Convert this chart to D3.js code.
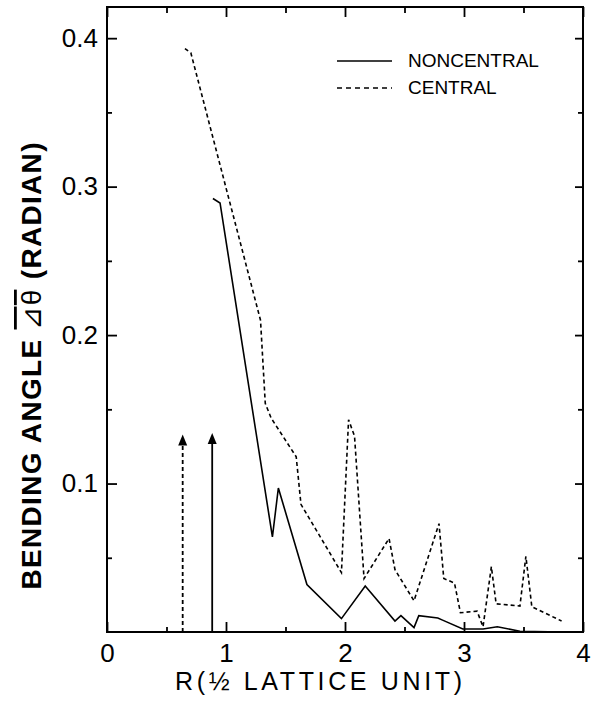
<!DOCTYPE html>
<meta charset="utf-8">
<style>
  body { margin: 0; background: #fff; }
  text { font-family: "Liberation Sans", Arial, sans-serif; fill: #000; }
</style>
<body>
<div id="chart"></div>
<script src="https://d3js.org/d3.v7.min.js"></script>
<script>
  // noncentral (solid)
  const ncR = [0.89, 0.95, 1.39, 1.44, 1.68, 1.97, 2.17, 2.42, 2.47, 2.58, 2.62, 2.78, 2.82, 2.99, 3.16, 3.28, 3.47, 3.83];
  const ncVal = [0.292, 0.289, 0.064, 0.097, 0.032, 0.009, 0.031, 0.0074, 0.011, 0.003, 0.011, 0.0094, 0.008, 0.002, 0.002, 0.0035, 0.0005, 0.0];
  // central (dashed)
  const cR = [0.655, 0.705, 1.29, 1.33, 1.38, 1.59, 1.63, 1.97, 2.03, 2.08, 2.16, 2.37, 2.42, 2.58, 2.79, 2.83, 2.92, 2.97, 3.11, 3.16, 3.23, 3.27, 3.47, 3.52, 3.57, 3.82];
  const cVal = [0.393, 0.390, 0.210, 0.154, 0.144, 0.118, 0.086, 0.040, 0.143, 0.132, 0.036, 0.063, 0.042, 0.021, 0.073, 0.036, 0.033, 0.013, 0.014, 0.0035, 0.044, 0.019, 0.0175, 0.051, 0.017, 0.0074];
  // vertical arrows: x, top value, dashed?
  const arrowR = [0.636, 0.884];
  const arrowTop = [0.133, 0.134];
  const arrowDashed = [true, false];

  const xMajor = [0, 1, 2, 3, 4];
  const xMinor = [0.5, 1.5, 2.5, 3.5];
  const yMajor = [0.1, 0.2, 0.3, 0.4];
  const yMinor = [0.05, 0.15, 0.25, 0.35];

  const W = 598, H = 710;
  const x0 = 107, x1 = 583, y0 = 632, y1 = 7;

  const svg = d3.select('#chart').append('svg')
      .attr('width', W).attr('height', H);

  const x = d3.scaleLinear().domain([0, 4]).range([x0, x1]);
  const y = d3.scaleLinear().domain([0, 0.421]).range([y0, y1]);

  // frame
  svg.append('rect')
      .attr('x', x0).attr('y', y1)
      .attr('width', x1 - x0).attr('height', y0 - y1)
      .attr('fill', 'none').attr('stroke', '#000').attr('stroke-width', 2);

  function styleAxis(g) {
    g.select('.domain').remove();
    g.selectAll('.tick line').attr('stroke', '#000').attr('stroke-width', 1.8);
    g.selectAll('text').attr('font-size', 26).attr('font-family', '"Liberation Sans", Arial, sans-serif');
  }

  svg.append('g').attr('transform', `translate(0,${y0})`)
      .call(d3.axisBottom(x).tickValues(xMajor).tickSize(-10).tickPadding(12).tickFormat(d3.format('d')))
      .call(styleAxis);
  svg.append('g').attr('transform', `translate(0,${y0})`)
      .call(d3.axisBottom(x).tickValues(xMinor).tickSize(-5).tickFormat(''))
      .call(styleAxis);
  svg.append('g').attr('transform', `translate(0,${y1})`)
      .call(d3.axisTop(x).tickValues(xMajor).tickSize(-10).tickFormat(''))
      .call(styleAxis);
  svg.append('g').attr('transform', `translate(0,${y1})`)
      .call(d3.axisTop(x).tickValues(xMinor).tickSize(-6).tickFormat(''))
      .call(styleAxis);

  svg.append('g').attr('transform', `translate(${x0},0)`)
      .call(d3.axisLeft(y).tickValues(yMajor).tickSize(-10).tickPadding(9).tickFormat(d3.format('.1f')))
      .call(styleAxis);
  svg.append('g').attr('transform', `translate(${x0},0)`)
      .call(d3.axisLeft(y).tickValues(yMinor).tickSize(-5).tickFormat(''))
      .call(styleAxis);
  svg.append('g').attr('transform', `translate(${x1},0)`)
      .call(d3.axisRight(y).tickValues(yMajor).tickSize(-8).tickFormat(''))
      .call(styleAxis);
  svg.append('g').attr('transform', `translate(${x1},0)`)
      .call(d3.axisRight(y).tickValues(yMinor).tickSize(-5).tickFormat(''))
      .call(styleAxis);

  // curves
  const line = d3.line().x(d => x(d[0])).y(d => y(d[1]));
  const ncData = ncR.map((r, i) => [r, ncVal[i]]);
  const cData = cR.map((r, i) => [r, cVal[i]]);

  svg.append('path').datum(ncData)
      .attr('d', line).attr('fill', 'none')
      .attr('stroke', '#000').attr('stroke-width', 1.6);
  svg.append('path').datum(cData)
      .attr('d', line).attr('fill', 'none')
      .attr('stroke', '#000').attr('stroke-width', 1.6)
      .attr('stroke-dasharray', '4,3');

  // arrows
  arrowR.forEach((r, i) => {
    const ax = x(r), tip = y(arrowTop[i]);
    svg.append('line')
        .attr('x1', ax).attr('x2', ax)
        .attr('y1', y(0)).attr('y2', tip + 8)
        .attr('stroke', '#000').attr('stroke-width', 1.8)
        .attr('stroke-dasharray', arrowDashed[i] ? '4,3' : null);
    svg.append('path')
        .attr('d', `M${ax},${tip} L${ax - 4.5},${tip + 11} L${ax + 4.5},${tip + 11} Z`)
        .attr('fill', '#000');
  });

  // legend
  const leg = svg.append('g');
  leg.append('line').attr('x1', 337).attr('x2', 392).attr('y1', 61).attr('y2', 61)
      .attr('stroke', '#000').attr('stroke-width', 1.6);
  leg.append('line').attr('x1', 337).attr('x2', 392).attr('y1', 88).attr('y2', 88)
      .attr('stroke', '#000').attr('stroke-width', 1.6).attr('stroke-dasharray', '5,4');
  leg.append('text').attr('x', 408).attr('y', 67).attr('font-size', 19).text('NONCENTRAL');
  leg.append('text').attr('x', 408).attr('y', 94).attr('font-size', 19).text('CENTRAL');

  // axis titles
  svg.append('text')
      .attr('x', 318.5).attr('y', 690)
      .attr('text-anchor', 'middle')
      .attr('font-size', 25)
      .attr('textLength', 287).attr('lengthAdjust', 'spacing')
      .text('R(½ LATTICE UNIT)');

  const yt = svg.append('text')
      .attr('transform', 'translate(41,366) rotate(-90)')
      .attr('text-anchor', 'middle')
      .attr('font-size', 28).attr('font-weight', 'bold')
      .attr('textLength', 447).attr('lengthAdjust', 'spacing');
  yt.append('tspan').text('BENDING ANGLE ');
  yt.append('tspan').attr('text-decoration', 'overline').attr('font-weight', 'normal').text('⊿θ');
  yt.append('tspan').text(' (RADIAN)');
</script>
